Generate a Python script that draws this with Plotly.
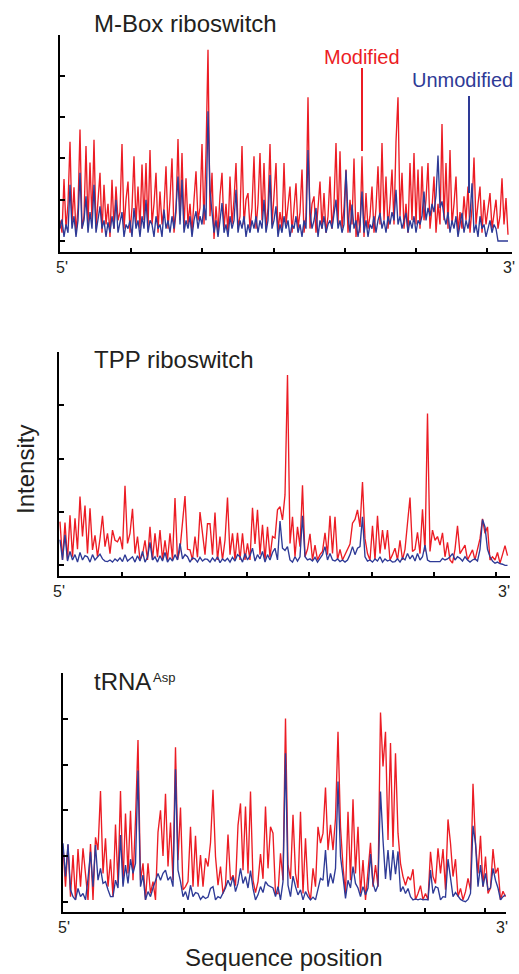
import plotly.graph_objects as go

# ---------------- data ----------------
panel_titles = ["M-Box riboswitch", "TPP riboswitch", "tRNA"]
trna_superscript = "Asp"
series_names = ["Modified", "Unmodified"]
end_labels = ["5'", "3'"]
x_title = "Sequence position"
y_title = "Intensity"

mbox_modified = [
    0.5, 0.2, 1.5, 0.3, 0.9, 2.4, 0.4, 1.3, 0.2, 0.8,
    2.7, 0.3, 0.6, 2.3, 0.4, 1.9, 0.5, 2.45, 0.3, 1.1,
    1.65, 0.2, 1.36, 0.4, 0.9, 0.1, 1.48, 0.3, 1.32, 0.5,
    0.7, 2.35, 0.3, 1.0, 1.44, 0.2, 0.8, 2.05, 0.4, 1.32,
    0.3, 1.85, 0.5, 1.89, 0.3, 2.2, 0.4, 0.9, 1.65, 0.2,
    1.2, 0.4, 0.8, 1.81, 0.3, 1.0, 2.0, 0.2, 0.7, 2.47,
    0.5, 2.13, 0.3, 1.52, 0.4, 0.9, 0.2, 1.0, 1.69, 0.5,
    0.8, 2.35, 0.4, 2.13, 4.63, 0.6, 1.65, 0.05, 0.84, 0.2,
    1.1, 1.65, 0.3, 0.9, 0.2, 1.56, 0.4, 1.0, 1.89, 0.3,
    0.6, 2.3, 0.4, 1.0, 1.16, 0.3, 0.8, 2.05, 0.3, 0.9,
    2.13, 0.5, 1.89, 0.3, 0.8, 2.35, 0.4, 1.1, 1.89, 0.2,
    0.7, 0.3, 1.89, 0.4, 0.9, 1.32, 0.2, 0.8, 1.4, 0.3,
    0.7, 1.73, 0.2, 0.6, 3.48, 0.3, 0.9, 1.08, 0.2, 0.8,
    1.44, 0.3, 1.16, 0.2, 0.6, 1.56, 0.3, 0.9, 2.37, 0.4,
    2.17, 0.3, 0.8, 1.73, 0.2, 1.0, 0.4, 2.0, 0.1, 0.7,
    0.2, 2.05, 0.1, 1.16, 0.3, 0.6, 1.32, 0.2, 0.8, 1.81,
    0.4, 2.37, 0.5, 1.56, 0.3, 0.9, 1.73, 0.4, 2.41, 3.48,
    0.6, 1.65, 0.3, 0.9, 0.2, 1.89, 0.5, 2.13, 0.4, 1.73,
    0.3, 1.81, 0.5, 1.0, 1.89, 0.3, 0.8, 1.56, 0.2, 0.9,
    0.4, 2.83, 0.5, 1.89, 0.3, 2.2, 0.4, 0.9, 1.56, 0.2,
    0.7, 0.3, 1.08, 0.5, 1.32, 0.2, 0.8, 2.02, 0.4, 0.9,
    1.32, 0.2, 1.0, 0.4, 0.8, 1.16, 0.3, 0.7, 1.0, 0.3,
    0.6, 1.52, 0.4, 1.04, 0.15,
]
mbox_unmodified = [
    0.3, 0.52, 0.1, 0.4, 0.2, 1.36, 0.3, 0.6, 0.1, 0.5,
    1.65, 0.3, 0.5, 1.08, 0.2, 0.7, 0.3, 1.36, 0.2, 0.5,
    0.84, 0.3, 0.5, 0.1, 0.45, 0.2, 0.6, 0.3, 1.0, 0.2,
    0.5, 0.7, 0.1, 0.4, 0.3, 0.5, 0.1, 0.8, 0.3, 0.5,
    0.1, 0.6, 0.3, 1.0, 0.2, 0.5, 0.4, 0.1, 0.6, 0.3,
    0.4, 0.1, 0.76, 0.3, 0.5, 0.2, 0.6, 0.3, 0.8, 1.56,
    0.4, 1.48, 0.2, 0.5, 0.3, 0.6, 0.1, 0.5, 0.72, 0.3,
    0.6, 0.4, 0.88, 0.5, 3.14, 1.2, 0.7, 0.2, 0.5, 0.1,
    0.5, 0.92, 0.2, 0.4, 0.1, 0.6, 0.3, 0.5, 1.24, 0.2,
    0.5, 0.3, 0.6, 0.1, 0.4, 0.2, 0.5, 0.3, 0.6, 0.2,
    0.5, 0.3, 1.0, 0.2, 0.5, 1.6, 0.3, 0.5, 0.84, 0.1,
    0.4, 0.2, 0.6, 0.3, 0.5, 0.1, 0.4, 0.3, 0.6, 0.2,
    0.4, 0.1, 0.5, 0.3, 2.2, 0.7, 0.3, 0.5, 0.8, 0.1,
    0.5, 0.3, 0.6, 0.2, 0.4, 0.5, 0.3, 0.6, 1.0, 0.3,
    0.5, 0.2, 0.4, 1.71, 0.6, 0.2, 0.88, 0.3, 0.5, 0.1,
    0.4, 1.2, 0.2, 0.5, 0.1, 0.4, 0.3, 0.6, 0.2, 0.5,
    0.68, 0.3, 0.5, 0.2, 0.6, 0.4, 0.7, 0.5, 1.24, 0.4,
    0.6, 0.3, 0.5, 0.68, 0.2, 0.5, 0.3, 0.6, 0.2, 0.5,
    0.4, 0.6, 1.2, 0.5, 0.8, 0.6, 0.9, 0.7, 1.1, 2.07,
    0.8, 0.96, 0.6, 0.4, 0.7, 0.2, 0.5, 0.3, 0.6, 0.1,
    0.4, 0.68, 0.2, 0.5, 0.3, 0.6, 1.4, 0.2, 0.4, 0.1,
    0.6, 0.3, 0.4, 0.1, 0.3, 0.5, 0.2, 0.4, 0.3, 0.0,
    0.0, 0.0, 0.0, 0.0, 0.0,
]

tpp_modified = [
    0.82, 0.1, 0.8, 0.1, 0.94, 0.16, 0.88, 0.3, 1.29, 0.54,
    1.12, 0.22, 1.07, 0.29, 0.56, 0.16, 0.5, 0.93, 0.35, 0.6,
    0.22, 0.66, 0.47, 0.44, 0.54, 0.3, 1.49, 0.41, 0.6, 1.06,
    0.22, 0.54, 0.1, 0.2, 0.47, 0.1, 0.72, 0.1, 0.6, 0.15,
    0.66, 0.1, 0.47, 0.1, 0.6, 0.1, 1.26, 0.1, 0.3, 0.86,
    1.3, 0.3, 0.29, 0.1, 0.54, 0.15, 1.0, 0.6, 0.2, 0.78,
    0.78, 0.2, 0.99, 0.1, 0.54, 0.1, 0.47, 1.27, 0.2, 0.6,
    0.1, 0.61, 0.1, 0.6, 0.1, 0.41, 0.1, 1.08, 0.4, 1.04,
    0.2, 0.76, 0.1, 0.72, 0.15, 0.54, 0.51, 1.04, 1.1, 0.85,
    1.32, 3.57, 0.41, 0.91, 0.16, 0.72, 0.35, 1.5, 0.16, 0.3,
    0.59, 0.1, 0.38, 0.1, 0.2, 0.26, 0.61, 0.2, 0.93, 0.22,
    0.91, 0.1, 0.3, 0.1, 0.2, 0.32, 0.4, 0.79, 0.86, 1.04,
    0.72, 1.56, 0.5, 0.22, 0.1, 0.74, 0.1, 0.93, 0.22, 0.66,
    0.3, 0.66, 0.1, 0.2, 0.32, 0.1, 0.47, 0.1, 0.3, 0.79,
    1.27, 0.26, 0.3, 0.62, 0.22, 1.05, 0.26, 2.85, 0.26, 0.66,
    0.47, 0.54, 0.38, 0.61, 0.16, 0.43, 0.1, 0.04, 0.3, 0.74,
    0.22, 0.3, 0.38, 0.1, 0.2, 0.29, 0.1, 0.32, 0.5, 0.87,
    0.6, 0.72, 0.1, 0.16, 0.1, 0.24, 0.04, 0.2, 0.37, 0.18,
]
tpp_unmodified = [
    0.48, 0.1, 0.57, 0.08, 0.26, 0.1, 0.2, 0.06, 0.24, 0.1,
    0.18, 0.16, 0.06, 0.2, 0.1, 0.15, 0.21, 0.12, 0.08, 0.07,
    0.1, 0.06, 0.12, 0.08, 0.14, 0.07, 0.2, 0.08, 0.12, 0.16,
    0.06, 0.18, 0.08, 0.26, 0.06, 0.15, 0.43, 0.1, 0.16, 0.06,
    0.18, 0.08, 0.24, 0.06, 0.14, 0.08, 0.2, 0.1, 0.41, 0.12,
    0.2, 0.16, 0.06, 0.14, 0.12, 0.06, 0.15, 0.08, 0.12, 0.11,
    0.06, 0.14, 0.08, 0.16, 0.05, 0.12, 0.08, 0.13, 0.06, 0.15,
    0.08, 0.2, 0.16, 0.06, 0.22, 0.1, 0.18, 0.32, 0.08, 0.2,
    0.12, 0.26, 0.06, 0.2, 0.1, 0.24, 0.32, 0.1, 0.83, 0.32,
    0.28, 0.35, 0.1, 0.06, 0.16, 0.08, 0.16, 0.93, 0.16, 0.1,
    0.12, 0.08, 0.15, 0.06, 0.13, 0.2, 0.35, 0.1, 0.22, 0.1,
    0.08, 0.12, 0.07, 0.1, 0.06, 0.1, 0.2, 0.35, 0.2, 0.32,
    0.35, 0.91, 0.16, 0.08, 0.1, 0.06, 0.12, 0.08, 0.16, 0.06,
    0.12, 0.08, 0.1, 0.06, 0.07, 0.12, 0.06, 0.14, 0.1, 0.22,
    0.12, 0.19, 0.08, 0.22, 0.1, 0.16, 0.38, 0.1, 0.07, 0.07,
    0.07, 0.08, 0.07, 0.13, 0.1, 0.12, 0.16, 0.22, 0.1, 0.16,
    0.13, 0.08, 0.16, 0.1, 0.06, 0.1, 0.12, 0.08, 0.3, 0.86,
    0.72, 0.3, 0.16, 0.08, 0.04, 0.06, 0.03, 0.02, 0.0, 0.0,
]

trna_modified = [
    1.2, 0.33, 1.24, 0.11, 1.02, 0.04, 1.15, 0.33, 1.17, 0.62,
    0.04, 1.26, 0.04, 1.41, 1.13, 2.42, 0.62, 1.39, 0.33, 0.93,
    0.11, 1.69, 0.4, 2.42, 0.4, 1.93, 0.62, 1.99, 0.47, 1.79,
    3.54, 0.47, 0.84, 0.04, 0.84, 0.18, 0.44, 0.04, 1.52, 2.0,
    1.0, 2.36, 0.77, 1.73, 0.47, 3.38, 0.91, 2.06, 0.26, 0.33,
    0.44, 1.64, 0.33, 1.44, 0.33, 1.02, 0.33, 0.95, 0.77, 1.29,
    2.45, 0.99, 0.36, 0.77, 0.18, 0.36, 1.47, 0.47, 0.58, 0.35,
    1.67, 2.15, 0.69, 2.08, 0.62, 2.41, 0.47, 0.2, 0.44, 1.04,
    0.5, 2.08, 0.73, 1.64, 1.5, 0.18, 0.18, 1.06, 0.47, 4.01,
    0.8, 0.5, 1.9, 0.62, 0.3, 1.97, 0.18, 1.39, 0.26, 0.04,
    0.73, 0.33, 1.64, 1.28, 1.5, 2.5, 1.13, 1.68, 1.13, 1.82,
    3.72, 1.64, 0.77, 0.18, 1.97, 0.47, 2.24, 0.62, 1.64, 0.18,
    0.91, 0.04, 0.6, 1.29, 0.33, 0.8, 0.33, 4.14, 2.96, 3.72,
    1.35, 3.47, 1.2, 3.25, 1.5, 0.84, 0.55, 0.36, 0.55, 0.47,
    0.71, 0.04, 0.18, 0.35, 0.04, 0.18, 0.04, 1.09, 0.55, 0.4,
    1.17, 0.62, 1.15, 0.26, 1.8, 1.28, 0.55, 0.93, 0.11, 0.29,
    0.04, 0.22, 0.51, 0.26, 2.58, 1.28, 0.62, 1.44, 0.33, 0.99,
    0.18, 0.3, 1.15, 0.62, 0.74, 0.04, 0.23, 0.11,
]
trna_unmodified = [
    1.28, 0.55, 1.26, 0.26, 0.11, 0.04, 0.29, 0.11, 0.18, 0.04,
    0.5, 1.09, 0.33, 1.24, 0.47, 0.73, 0.4, 0.44, 0.26, 0.11,
    0.11, 0.47, 0.3, 1.46, 0.33, 0.8, 0.4, 0.93, 0.62, 0.84,
    2.87, 0.33, 0.58, 0.04, 0.22, 0.11, 0.3, 0.47, 0.62, 0.47,
    0.62, 0.69, 0.47, 0.55, 0.33, 2.9, 0.69, 0.44, 0.11, 0.22,
    0.04, 0.36, 0.11, 0.2, 0.18, 0.05, 0.12, 0.07, 0.1, 0.29,
    0.33, 0.04, 0.11, 0.08, 0.18, 0.3, 0.47, 0.33, 0.55, 0.22,
    0.4, 0.73, 0.4, 0.55, 0.3, 0.68, 0.29, 0.04, 0.15, 0.33,
    0.2, 0.44, 0.36, 0.33, 0.3, 0.11, 0.33, 0.04, 0.44, 3.25,
    0.36, 0.11, 0.56, 0.33, 0.15, 0.26, 0.04, 0.22, 0.11, 0.04,
    0.1, 0.04, 0.26, 0.51, 0.47, 1.13, 0.33, 0.62, 0.4, 0.73,
    2.63, 0.99, 0.55, 0.07, 0.47, 0.3, 0.77, 0.4, 0.3, 0.11,
    0.33, 0.15, 0.3, 1.04, 0.4, 0.22, 0.36, 2.41, 1.35, 0.5,
    1.13, 0.47, 1.13, 0.6, 1.1, 0.22, 0.33, 0.18, 0.29, 0.11,
    0.04, 0.06, 0.04, 0.06, 0.04, 0.05, 0.04, 0.69, 0.18, 0.33,
    0.3, 0.04, 0.11, 0.1, 0.93, 0.47, 0.11, 0.2, 0.11, 0.05,
    0.02, 0.0, 0.05, 0.18, 1.66, 1.28, 0.33, 0.8, 0.33, 0.62,
    0.26, 0.3, 0.73, 0.47, 0.3, 0.04, 0.11, 0.15,
]

# ---------------- style ----------------
RED = "#ec1c24"
BLUE = "#2e3a96"
INK = "#231f20"
FONT = "Liberation Sans, Arial, sans-serif"
W, H = 519, 974

def py(px):
    return 1 - px / H

def pxx(px):
    return px / W

fig = go.Figure()

panels = [
    dict(mod=mbox_modified, unmod=mbox_unmodified, xpix=(60, 512), ypix=(35, 252),
         xstep=2.0, yunit=41.3, base=241, ntick=5, dtick_px=71.2, x0=60),
    dict(mod=tpp_modified, unmod=tpp_unmodified, xpix=(59, 510), ypix=(352, 576),
         xstep=2.5, yunit=53.3, base=565.3, ntick=4, dtick_px=62.3, x0=60),
    dict(mod=trna_modified, unmod=trna_unmodified, xpix=(63, 506), ypix=(673, 912),
         xstep=2.5, yunit=45.7, base=901.7, ntick=5, dtick_px=60.3, x0=63),
]

layout_axes = {}
for k, p in enumerate(panels):
    xa = "xaxis" if k == 0 else f"xaxis{k+1}"
    ya = "yaxis" if k == 0 else f"yaxis{k+1}"
    xr = "x" if k == 0 else f"x{k+1}"
    yr = "y" if k == 0 else f"y{k+1}"
    fig.add_trace(go.Scatter(x=list(range(len(p["mod"]))), y=p["mod"], mode="lines",
                             name=series_names[0],
                             line=dict(color=RED, width=1.35), xaxis=xr, yaxis=yr))
    fig.add_trace(go.Scatter(x=list(range(len(p["unmod"]))), y=p["unmod"], mode="lines",
                             name=series_names[1],
                             line=dict(color=BLUE, width=1.35), xaxis=xr, yaxis=yr))
    x0 = p["x0"]
    xrng = [(p["xpix"][0] - x0) / p["xstep"], (p["xpix"][1] - x0) / p["xstep"]]
    yrng = [-(p["ypix"][1] - p["base"]) / p["yunit"], (p["base"] - p["ypix"][0]) / p["yunit"]]
    layout_axes[xa] = dict(domain=[pxx(p["xpix"][0]), pxx(p["xpix"][1])], range=xrng,
                           anchor=yr, showline=True, linecolor="black", linewidth=2,
                           ticks="inside", ticklen=4, tickwidth=2, tickcolor="black",
                           tick0=0, dtick=p["dtick_px"] / p["xstep"],
                           showticklabels=False, showgrid=False, zeroline=False, fixedrange=True)
    layout_axes[ya] = dict(domain=[py(p["ypix"][1]), py(p["ypix"][0])], range=yrng,
                           anchor=xr, showline=True, linecolor="black", linewidth=2,
                           ticks="inside", ticklen=5, tickwidth=2, tickcolor="black",
                           tickvals=list(range(0, p["ntick"] + 1)),
                           showticklabels=False, showgrid=False, zeroline=False, fixedrange=True)

fig.update_layout(**layout_axes)

annotations = []
title_y = [23, 359, 681]
for k, t in enumerate(panel_titles):
    annotations.append(dict(text=t, x=pxx(92), y=py(title_y[k]), xref="paper", yref="paper",
                            xanchor="left", yanchor="middle", showarrow=False,
                            font=dict(family=FONT, size=24, color=INK)))
annotations.append(dict(text=trna_superscript, x=pxx(150.5), y=py(677), xref="paper", yref="paper",
                        xanchor="left", yanchor="middle", showarrow=False,
                        font=dict(family=FONT, size=13, color=INK)))

end_pos = [((61.5, 267), (509, 267)), ((59, 591), (504, 591)), ((64, 927), (502, 927))]
for (a, b) in end_pos:
    for lab, (xx, yy) in zip(end_labels, (a, b)):
        annotations.append(dict(text=lab, x=pxx(xx), y=py(yy), xref="paper", yref="paper",
                                xanchor="center", yanchor="middle", showarrow=False,
                                font=dict(family=FONT, size=16, color=INK)))

annotations.append(dict(text=x_title, x=pxx(283), y=py(957), xref="paper", yref="paper",
                        xanchor="center", yanchor="middle", showarrow=False,
                        font=dict(family=FONT, size=24, color=INK)))
annotations.append(dict(text=y_title, x=pxx(25), y=py(470), xref="paper", yref="paper",
                        xanchor="center", yanchor="middle", showarrow=False, textangle=-90,
                        font=dict(family=FONT, size=24, color=INK)))

annotations.append(dict(text=series_names[0], x=pxx(362), y=py(57), xref="paper", yref="paper",
                        xanchor="center", yanchor="middle", showarrow=False,
                        font=dict(family=FONT, size=20, color=RED)))
annotations.append(dict(text=series_names[1], x=pxx(462), y=py(80), xref="paper", yref="paper",
                        xanchor="center", yanchor="middle", showarrow=False,
                        font=dict(family=FONT, size=20, color=BLUE)))

shapes = [
    dict(type="line", xref="paper", yref="paper", x0=pxx(362), x1=pxx(362),
         y0=py(68), y1=py(151), line=dict(color=RED, width=2)),
    dict(type="line", xref="paper", yref="paper", x0=pxx(469), x1=pxx(469),
         y0=py(96), y1=py(193), line=dict(color=BLUE, width=2)),
]

fig.update_layout(width=W, height=H, margin=dict(l=0, r=0, t=0, b=0),
                  paper_bgcolor="white", plot_bgcolor="white", showlegend=False,
                  annotations=annotations, shapes=shapes)

fig.write_html("out.html", config={"displayModeBar": False},
               post_script="document.body.style.margin='0';document.body.style.overflow='hidden';")
